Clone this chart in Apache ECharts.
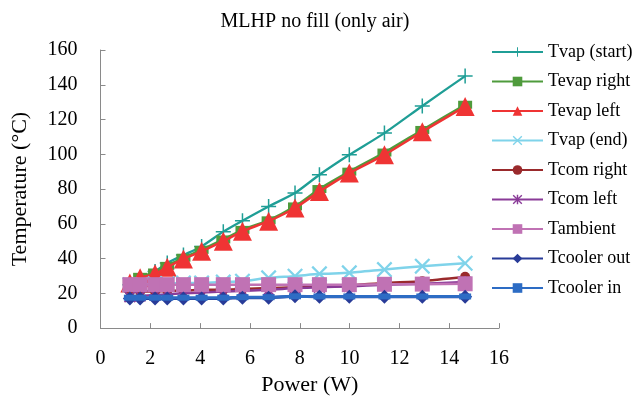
<!DOCTYPE html>
<html><head><meta charset="utf-8">
<script src="https://cdn.jsdelivr.net/npm/echarts@6/dist/echarts.min.js"></script>
<style>html,body{margin:0;padding:0;background:#fff}#c{width:634px;height:401px}</style>
</head><body><div id="c"></div>
<script>
const power = [1.18, 1.59, 2.19, 2.68, 3.33, 4.06, 4.93, 5.7, 6.75, 7.81, 8.79, 9.99, 11.4, 12.92, 14.64];
const tvapStart  = [25, 28.5, 32.5, 37.5, 42, 47, 55.5, 61.8, 70, 77.7, 88.2, 99.7, 112.2, 127.8, 145];
const tevapRight = [26.5, 29.5, 32, 35.8, 40.5, 45, 51, 56.5, 62, 70, 80, 90, 101, 114, 128.5];
const tevapLeft  = [26, 28.9, 31.2, 35, 39.8, 44.2, 50, 55.7, 61.5, 69.1, 78.6, 89.2, 99.7, 113, 127.5];
const tvapEnd    = [25, 25, 25.5, 25.5, 26, 26, 26.5, 27, 28.9, 29.9, 31.2, 31.8, 33.7, 35.6, 37.3];
const tcomRight  = [21, 21, 21, 21.5, 21.5, 22, 22, 22.5, 23, 23.5, 24, 24.5, 26, 27, 29.5];
const tcomLeft   = [18, 18.5, 19, 19.5, 20, 20.5, 21, 21.5, 22, 23, 23.5, 24, 25, 25.5, 26.5];
const tambient   = [25, 25, 25, 25, 25, 25, 25, 25, 25, 25, 25, 25, 25.2, 25.3, 25.5];
const tcoolerOut = [17, 17, 17, 17, 17, 17, 17, 17.5, 17.5, 18.3, 18, 18, 18, 18, 18];
const tcoolerIn  = [17.5, 17.5, 17.5, 17.5, 17.5, 17.5, 17.5, 17.8, 17.8, 18.3, 18.2, 18.2, 18.2, 18.2, 18.2];

const names = ['Tvap (start)','Tevap right','Tevap left','Tvap (end)','Tcom right','Tcom left','Tambient','Tcooler out','Tcooler in'];
const values = [tvapStart, tevapRight, tevapLeft, tvapEnd, tcomRight, tcomLeft, tambient, tcoolerOut, tcoolerIn];
const colors = ['#1f9e96','#4f9b3c','#ef3434','#7fd3ea','#9a2a2c','#8a3b98','#c072b4','#283b98','#2d6cc4'];
const PLUS = 'path://M9,0H11V9H20V11H11V20H9V11H0V9H9Z';
const CROSS = 'path://M0,2L2,0L10,8L18,0L20,2L12,10L20,18L18,20L10,12L2,20L0,18L8,10Z';
const STAR = 'path://M0,2L2,0L10,8L18,0L20,2L12,10L20,18L18,20L10,12L2,20L0,18L8,10ZM8.5,0H11.5V20H8.5Z';
const symbols = [PLUS, 'rect', 'triangle', CROSS, 'circle', STAR, 'rect', 'diamond', 'rect'];
const sizes = [15, [14,8], 19, 16, 10, 12, 15, 14, [12,6]];
const widths = [2.3, 2.5, 2.5, 2.5, 2.5, 2.5, 2.5, 3, 3];

const chart = echarts.init(document.getElementById('c'), null, {renderer:'canvas'});
const font = '"Liberation Serif", "DejaVu Serif", serif';
chart.setOption({
  backgroundColor:'#fff',
  animation:false,
  textStyle:{fontFamily:font},
  title:{text:'MLHP no fill (only air)', left:310, top:7, textAlign:'center',
    textStyle:{fontFamily:font, fontSize:20, fontWeight:'normal', color:'#000'}},
  legend:{orient:'vertical', left:486, top:38, itemWidth:51, itemHeight:12, itemGap:11.5,
    textStyle:{fontFamily:font, fontSize:18, color:'#000'}, data:names},
  grid:{left:100.5, right:135, top:50, bottom:72.3, containLabel:false},
  xAxis:{type:'value', min:0, max:16, interval:2,
    name:'Power (W)', nameLocation:'middle', nameGap:45,
    nameTextStyle:{fontFamily:font, fontSize:22, color:'#000', padding:[0,0,0,20]},
    axisLine:{lineStyle:{color:'#8a8a8a', width:1}},
    axisTick:{inside:true, length:5, lineStyle:{color:'#8a8a8a'}},
    axisLabel:{fontFamily:font, fontSize:20, color:'#000', margin:21},
    splitLine:{show:false}},
  yAxis:{type:'value', min:0, max:160, interval:20,
    name:'Temperature (°C)', nameLocation:'middle', nameGap:69, nameRotate:90,
    nameTextStyle:{fontFamily:font, fontSize:22, color:'#000'},
    axisLine:{show:true, lineStyle:{color:'#8a8a8a', width:1}},
    axisTick:{show:true, inside:true, length:5, lineStyle:{color:'#8a8a8a'}},
    axisLabel:{fontFamily:font, fontSize:20, color:'#000', margin:23},
    splitLine:{show:false}},
  series: names.map((n,i)=>({
    name:n, type:'line', smooth:0.2,
    data: power.map((p,j)=>[p, values[i][j]]),
    symbol: symbols[i], symbolSize: sizes[i],
    lineStyle:{color:colors[i], width:widths[i]},
    itemStyle:{color:colors[i], borderWidth:0},
    z: 2 + i
  }))
});
</script></body></html>
